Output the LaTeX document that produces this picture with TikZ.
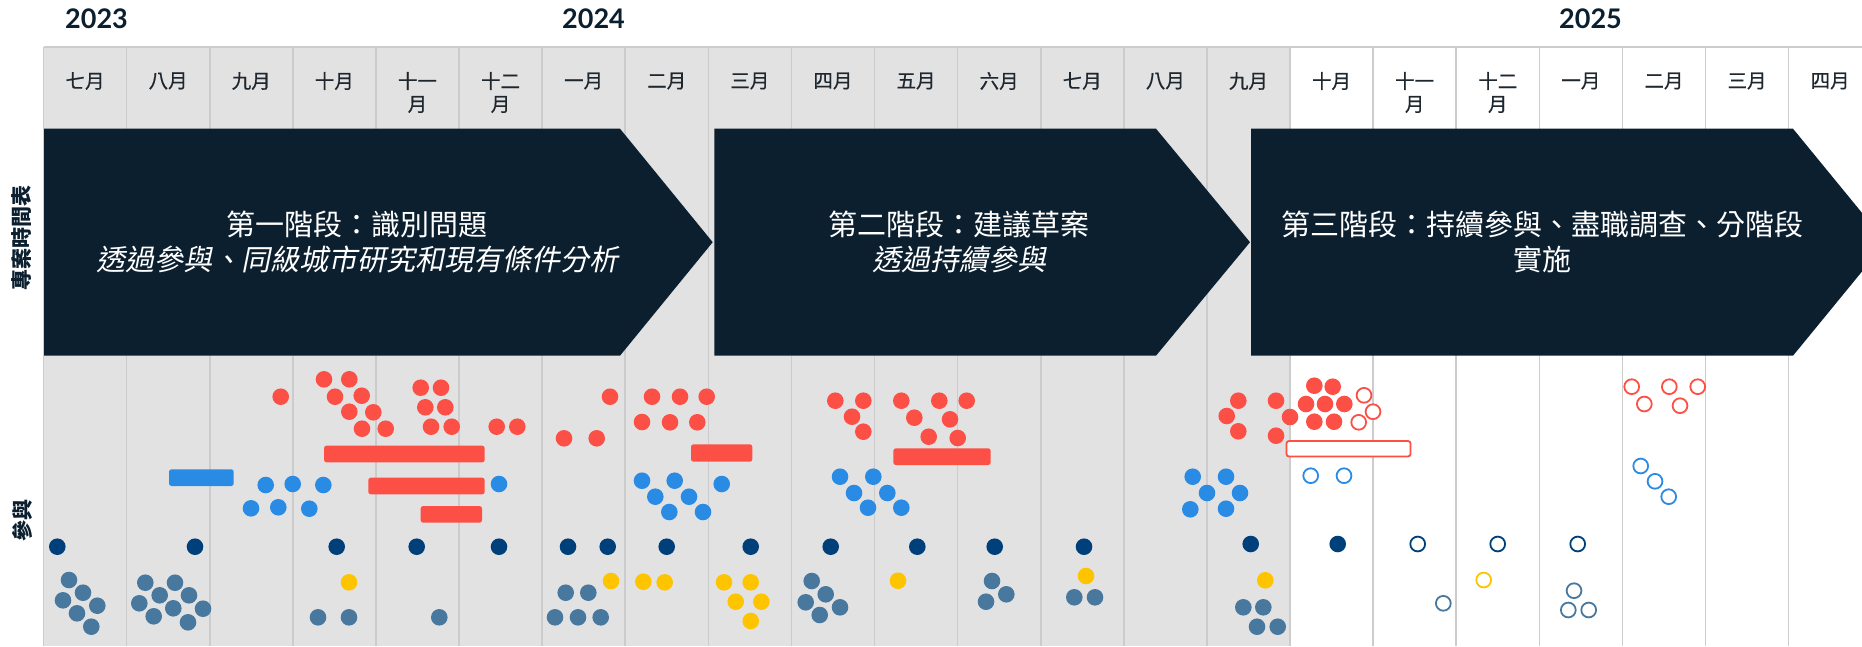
\documentclass[tikz,border=0pt]{standalone}
\usepackage{fontspec}
\setmainfont{Noto Sans CJK TC}
\newfontfamily\yearfont{Lato}
\newfontfamily\slantfont{Noto Sans CJK TC}[FakeSlant=0.2]
\newfontfamily\monthfont{Noto Sans CJK TC}[FakeBold=0.6]
\definecolor{bandnavy}{RGB}{11,31,47}
\definecolor{cellgrey}{RGB}{226,226,226}
\definecolor{gridgrey}{RGB}{204,204,204}
\definecolor{dotred}{RGB}{252,80,70}
\definecolor{dotblue}{RGB}{42,139,228}
\definecolor{dotnavy}{RGB}{0,64,122}
\definecolor{dotsteel}{RGB}{72,120,158}
\definecolor{dotyellow}{RGB}{255,196,0}
\definecolor{monthtext}{RGB}{30,38,46}

\begin{document}
\begin{tikzpicture}[x=1pt,y=-1pt,
  monthlab/.style={font=\monthfont\fontsize{19.5}{23}\selectfont,text=monthtext,inner sep=0pt},
  yearlab/.style={font=\yearfont\bfseries\fontsize{27}{30}\selectfont,text=bandnavy,anchor=west,inner sep=0pt},
  sidelab/.style={font=\bfseries\fontsize{21}{24}\selectfont,text=bandnavy,rotate=90,inner sep=0pt},
  phaselab/.style={font=\fontsize{29}{34.5}\selectfont,text=white,align=center,inner sep=0pt},
  fulldot/.style={fill=#1},
  opendot/.style={draw=#1,fill=white,line width=1.8pt},
  bar/.style={fill=#1,rounded corners=2.5pt},
  openbar/.style={draw=#1,fill=white,line width=1.8pt,rounded corners=2.5pt}]
\useasboundingbox (0,0) rectangle (1862,646);
\clip (0,0) rectangle (1862,646);
% grid
\fill[cellgrey] (43.5,47) rectangle (1290,646);
\foreach \i in {0,...,22}
  \draw[gridgrey,line width=1.6pt] ({43.5+83.1*\i},47) -- ({43.5+83.1*\i},646);
\draw[gridgrey,line width=1.6pt] (43.5,47) -- (1862,47);
%
\node (y23) [yearlab] at (65,19) {2023};
\node (y24) [yearlab] at (562,19) {2024};
\node (y25) [yearlab] at (1559,19) {2025};
\foreach \ma/\mb [count=\i from 0] in {七月/{},八月/{},九月/{},十月/{},十一/月,十二/月,一月/{},二月/{},三月/{},四月/{},五月/{},六月/{},七月/{},八月/{},九月/{},十月/{},十一/月,十二/月,一月/{},二月/{},三月/{},四月/{}}{
  \node (ma\i) [monthlab] at ({85.05+83.1*\i},81) {\ma};
  \node (mb\i) [monthlab] at ({85.05+83.1*\i},104.5) {\mb};
}
% phases
\fill[bandnavy] (44,128.7) -- (620,128.7) -- (712.7,242.2) -- (620,355.7) -- (44,355.7) -- cycle;
\fill[bandnavy] (714.3,128.7) -- (1156,128.7) -- (1250,242.2) -- (1156,355.7) -- (714.3,355.7) -- cycle;
\fill[bandnavy] (1251,128.7) -- (1793,128.7) -- (1886,242.2) -- (1793,355.7) -- (1251,355.7) -- cycle;
\node (p1) [phaselab] at (357,242) {第一階段：識別問題\\{\slantfont 透過參與、同級城市研究和現有條件分析}};
\node (p2) [phaselab] at (959,242) {第二階段：建議草案\\{\slantfont 透過持續參與}};
\node (p3) [phaselab] at (1542,242) {第三階段：持續參與、盡職調查、分階段\\實施};
\node (s1) [sidelab] at (22,238) {專案時間表};
\node (s2) [sidelab] at (22,520) {參與};
% bars
\fill[bar=dotblue] (169,469.3) rectangle (233.7,486);
\foreach \xa/\ya/\xb/\yb in {324/445.7/484.7/462.3,368.3/477.7/484.7/494.3,420.7/506/482/522.7,691/444.3/752.3/461.7,893.3/448.3/990.7/465}
  \fill[bar=dotred] (\xa,\ya) rectangle (\xb,\yb);
\draw[openbar=dotred] (1286.5,441) rectangle (1410.5,456.5);
% red dots
\foreach \x/\y in {280.7/396.7,324/379.3,349.3/379.3,335/396.7,361.7/395.7,349.3/411.7,373.3/412.3,362/428.7,385.7/428.7,
  420.7/387.7,441/387.7,425.3/407.3,445.3/407.3,431/426.7,451.7/426.7,496.7/426.7,517.3/426.7,
  564/438.3,596.7/438.3,610/396.7,642/422,652/396.7,680/396.7,706.7/396.7,670/422.3,697.3/422.3,
  835.3/400.7,863.3/400.7,852/416.7,863.3/431.7,
  901.3/400.7,939.3/400.7,966.7/400.7,914.3/417.7,950/419.3,928.7/436.7,957.7/438,
  1238.3/400.7,1226.7/416,1238.3/431.3,1276/400.7,1290/417,1276/435.7,
  1314.3/385.7,1332.7/386.7,1306/404,1325/404,1344.3/404,1314.3/421.7,1334/421.7}
  \fill[fulldot=dotred] (\x,\y) circle[radius=8.3pt];
\foreach \x/\y in {1364/395.3,1373/411.7,1358.7/422.3,1631.7/386.7,1644.3/404,1669.3/386.7,1680/405.7,1697.7/386.7}
  \draw[opendot=dotred] (\x,\y) circle[radius=7.4pt];
% blue dots
\foreach \x/\y in {265.7/485,292.7/484,323.3/485,251/508.3,278.3/507.3,309.3/508.7,499/484,
  642/480.7,674.7/480.7,655.3/496.7,689/496.7,669.3/512,703/512,721.7/484,
  840/476.7,873.3/476.7,854/493,887.3/493,868/507.7,901.3/507.7,
  1192.7/476.7,1226/476.7,1207/493,1240/493,1190.3/509.3,1226/508.7}
  \fill[fulldot=dotblue] (\x,\y) circle[radius=8.3pt];
\foreach \x/\y in {1310.7/475.7,1344/475.7,1640.7/466,1655/481.3,1668.7/496.7}
  \draw[opendot=dotblue] (\x,\y) circle[radius=7.4pt];
% navy dots
\foreach \x/\y in {57.3/546.7,195/546.7,336.7/546.7,416.7/546.7,499/546.7,568/546.7,607.7/546.7,666.7/546.7,
  750.7/546.7,830.7/546.7,917.3/546.7,994.7/546.7,1084/546.7,1250.7/544,1337.7/544}
  \fill[fulldot=dotnavy] (\x,\y) circle[radius=8.3pt];
\foreach \x/\y in {1417.7/544,1497.7/544,1577.7/544}
  \draw[opendot=dotnavy] (\x,\y) circle[radius=7.4pt];
% yellow dots
\foreach \x/\y in {349/582.3,611/581,643.3/581.7,664.7/582.3,724/582.3,750.7/582.3,735.7/601.7,761.3/601.7,
  750.7/621,898/580.7,1086/576,1265.3/580.3}
  \fill[fulldot=dotyellow] (\x,\y) circle[radius=8.3pt];
\draw[opendot=dotyellow] (1483.7,580) circle[radius=7.4pt];
% steel dots
\foreach \x/\y in {69/580,83/592.7,63/600.3,97.3/605.7,77/613.3,91.3/626.7,
  145.3/582.7,175/582.7,159.7/595.3,189/595.3,139.3/603.3,173.3/608.3,203/608.7,153.7/616.3,188/622.3,
  318/617.3,349/617.3,439.3/617.3,565.7/592.7,588.3/592.7,555/617.3,578/617.3,600.7/617.3,
  811.7/581,825.7/594.3,805.7/602.3,840/607.3,819.7/615,992/581,1006.3/594.3,986/601.7,
  1074.3/597.3,1095/597.3,1243.3/607.3,1263.3/607.3,1257/626.7,1277.7/626.7}
  \fill[fulldot=dotsteel] (\x,\y) circle[radius=8.3pt];
\foreach \x/\y in {1443.3/603.3,1574/590.7,1568.3/610,1588.7/610}
  \draw[opendot=dotsteel] (\x,\y) circle[radius=7.4pt];
\end{tikzpicture}
\end{document}
